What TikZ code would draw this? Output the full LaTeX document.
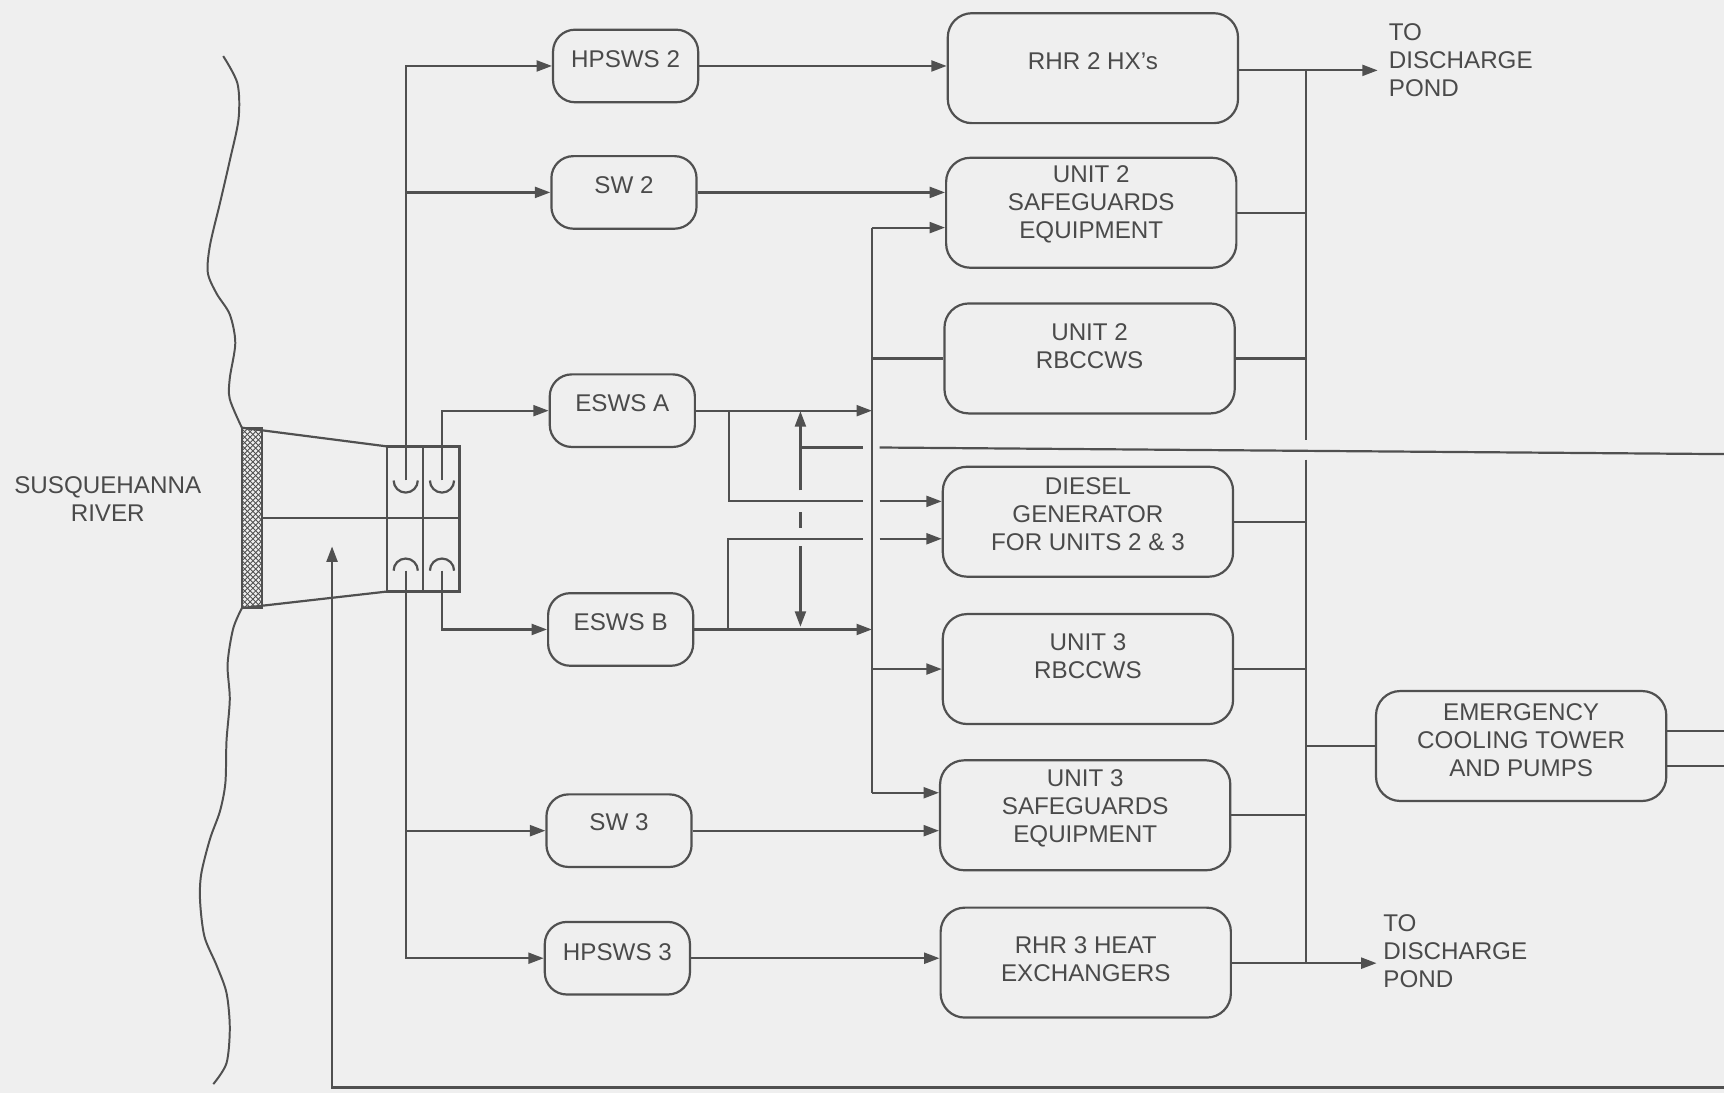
\documentclass[tikz,border=0pt]{standalone}
\usepackage{fontspec}
\setmainfont{Liberation Sans}
\usetikzlibrary{arrows.meta}
\definecolor{ink}{HTML}{505050}
\definecolor{txtc}{HTML}{4A4A4A}
\definecolor{paper}{HTML}{EFEFEF}
\begin{document}
\begin{tikzpicture}[x=1pt,y=-1pt,
  line/.style={draw=ink, line width=2pt},
  arr/.style={line, -{Triangle[length=14pt,width=10pt]}},
  sbox/.style={draw=ink, line width=2pt, rounded corners=20pt, minimum width=132pt, minimum height=66pt, inner sep=0pt},
  bbox/.style={draw=ink, line width=2pt, rounded corners=22pt, minimum width=264pt, minimum height=100pt, inner sep=0pt},
  lbl/.style={text=txtc, font=\fontsize{22}{25.5}\selectfont, align=center, inner sep=0pt},
]
\fill[paper] (0,0) rectangle (1568,994);
\useasboundingbox (0,0) rectangle (1568,994);

% river bank
\draw[line, line width=1.8pt] plot[smooth] coordinates {(203,51) (216,76) (217,108) (209,146) (200,185) (191,223) (189,248) (197,267) (209,286) (214,312) (209,344) (209,363) (220,389)};
\draw[line, line width=1.8pt] plot[smooth] coordinates {(220,553) (212,572) (207,604) (209,636) (206,674) (205,712) (200,738) (191,763) (183,795) (182,820) (186,852) (197,878) (206,903) (209,935) (206,967) (194,986)};
\node[lbl] (river) at (98,454) {SUSQUEHANNA\\RIVER};

% screen (hatched)
\begin{scope}
\clip (220,389) rectangle (238,553);
\foreach \t in {370,375,...,575} {\draw[ink, line width=0.8pt] (220,\t) -- ++(18,18) (220,\t) -- ++(18,-18);}
\end{scope}
\draw[line] (220,389) rectangle (238,553);

% intake structure
\draw[line] (220,389) -- (352,406);
\draw[line] (220,553) -- (352,538);
\draw[line] (238,471) -- (418,471);
\draw[line] (352,406) rectangle (418,538);
\draw[line] (385,406) -- (385,538);
\coordinate (pTL) at (369,437);
\coordinate (pTR) at (402,437);
\coordinate (pBL) at (369,519);
\coordinate (pBR) at (402,519);
\draw[line] (380,437) arc[start angle=0,end angle=180,radius=11];
\draw[line] (413,437) arc[start angle=0,end angle=180,radius=11];
\draw[line] (358,519) arc[start angle=180,end angle=360,radius=11];
\draw[line] (391,519) arc[start angle=180,end angle=360,radius=11];

% small boxes
\node[sbox] (hp2) at (569,60) {};
\node[sbox] (sw2) at (567.5,175) {};
\node[sbox] (eswsA) at (566,373.5) {};
\node[sbox] (eswsB) at (564.5,572.5) {};
\node[sbox] (sw3) at (563,755.5) {};
\node[sbox] (hp3) at (561.5,871.5) {};
\node[lbl] (hp2t) at (569,54) {HPSWS 2};
\node[lbl] (sw2t) at (567.5,168) {SW 2};
\node[lbl] (eswsAt) at (566,367) {ESWS A};
\node[lbl] (eswsBt) at (564.5,566) {ESWS B};
\node[lbl] (sw3t) at (563,748) {SW 3};
\node[lbl] (hp3t) at (561.5,866) {HPSWS 3};

% big boxes
\node[bbox] (rhr2) at (994,62) {};
\node[bbox] (u2sg) at (992.5,193.5) {};
\node[bbox] (u2rb) at (991,326) {};
\node[bbox] (dg) at (989.5,474.5) {};
\node[bbox] (u3rb) at (989.5,608.5) {};
\node[bbox] (u3sg) at (987,741.5) {};
\node[bbox] (rhr3) at (987.5,875.5) {};
\node[bbox] (ect) at (1383.5,678.5) {};
\node[lbl] (rhr2t) at (994,56) {RHR 2 HX\char"0027s};
\node[lbl] (u2sgt) at (992.5,186) {UNIT 2\\SAFEGUARDS\\EQUIPMENT};
\node[lbl] (u2rbt) at (991,315) {UNIT 2\\RBCCWS};
\node[lbl] (dgt) at (989.5,468) {DIESEL\\GENERATOR\\FOR UNITS 2 \& 3};
\node[lbl] (u3rbt) at (989.5,596.5) {UNIT 3\\RBCCWS};
\node[lbl] (u3sgt) at (987,735) {UNIT 3\\SAFEGUARDS\\EQUIPMENT};
\node[lbl] (rhr3t) at (987.5,872) {RHR 3 HEAT\\EXCHANGERS};
\node[lbl] (ectt) at (1383.5,673) {EMERGENCY\\COOLING TOWER\\AND PUMPS};

\node[lbl, align=left, anchor=west] (pond1) at (1263,54.5) {TO\\DISCHARGE\\POND};
\node[lbl, align=left, anchor=west] (pond2) at (1258,865) {TO\\DISCHARGE\\POND};

% pump discharge lines
\draw[arr] (pTL) |- (hp2.west);
\draw[arr] (pTL |- sw2.west) -- (sw2.west);
\draw[arr] (pTR) |- (eswsA.west);
\draw[arr] (pBR) |- (eswsB.west);
\draw[arr] (pBL) |- (hp3.west);
\draw[arr] (pBL |- sw3.west) -- (sw3.west);

% return line
\coordinate (ret) at (302,497);
\coordinate (retE) at (1568,989);
\draw[arr] (retE) -| (ret);

% small to big
\draw[arr] (hp2.east) -- (hp2.east -| rhr2.west);
\draw[arr] (sw2.east) -- (sw2.east -| u2sg.west);
\draw[arr] (sw3.east) -- (sw3.east -| u3sg.west);
\draw[arr] (hp3.east) -- (hp3.east -| rhr3.west);

% left bus
\coordinate (lbT) at (793,207);
\coordinate (lbB) at (793,721);
\draw[line] (lbT) -- (lbB);
\draw[arr] (lbT) -- (lbT -| u2sg.west);
\draw[arr] (lbB) -- (lbB -| u3sg.west);
\draw[line] (lbT |- u2rb.west) -- (u2rb.west);
\draw[arr] (lbT |- u3rb.west) -- (u3rb.west);
\draw[arr] (eswsA.east) -- (eswsA.east -| lbT);
\draw[arr] (eswsB.east) -- (eswsB.east -| lbT);

% cross connections to diesel
\coordinate (xa1) at (663,373.5);
\coordinate (xa2) at (663,456);
\coordinate (xa3) at (785,456);
\coordinate (xa4) at (800,456);
\draw[line] (xa1) -- (xa2) -- (xa3);
\draw[arr] (xa4) -- (xa4 -| dg.west);
\coordinate (xb1) at (662,572.5);
\coordinate (xb2) at (662,490);
\coordinate (xb3) at (785,490);
\coordinate (xb4) at (800,490);
\draw[line] (xb1) -- (xb2) -- (xb3);
\draw[arr] (xb4) -- (xb4 -| dg.west);

% dash-dot double arrow
\coordinate (da1) at (728,374);
\coordinate (da2) at (728,446);
\coordinate (da3) at (728,466);
\coordinate (da4) at (728,480);
\coordinate (da5) at (728,497);
\coordinate (da6) at (728,570);
\draw[arr] (da2) -- (da1);
\draw[line] (da3) -- (da4);
\draw[arr] (da5) -- (da6);

% long horizontal line
\coordinate (h1) at (728,407);
\coordinate (h2) at (785,407);
\coordinate (h3) at (800,407);
\coordinate (h4) at (1568,413);
\draw[line] (h1) -- (h2);
\draw[line] (h3) -- (h4);

% right bus
\coordinate (rbT) at (1188,64);
\coordinate (rbG1) at (1188,400);
\coordinate (rbG2) at (1188,418);
\coordinate (rbB) at (1188,876);
\draw[line] (rbT) -- (rbG1);
\draw[line] (rbG2) -- (rbB);
\coordinate (d1) at (1253,64);
\coordinate (d2) at (1252,876);
\draw[arr] (rhr2.east |- rbT) -- (d1);
\draw[arr] (rhr3.east |- rbB) -- (d2);
\draw[line] (u2sg.east) -- (u2sg.east -| rbT);
\draw[line] (u2rb.east) -- (u2rb.east -| rbT);
\draw[line] (dg.east) -- (dg.east -| rbT);
\draw[line] (u3rb.east) -- (u3rb.east -| rbT);
\draw[line] (u3sg.east) -- (u3sg.east -| rbT);
\draw[line] (rbT |- ect.west) -- (ect.west);
\coordinate (e1) at (1568,665);
\coordinate (e2) at (1568,697);
\draw[line] (ect.east |- e1) -- (e1);
\draw[line] (ect.east |- e2) -- (e2);
\end{tikzpicture}
\end{document}
